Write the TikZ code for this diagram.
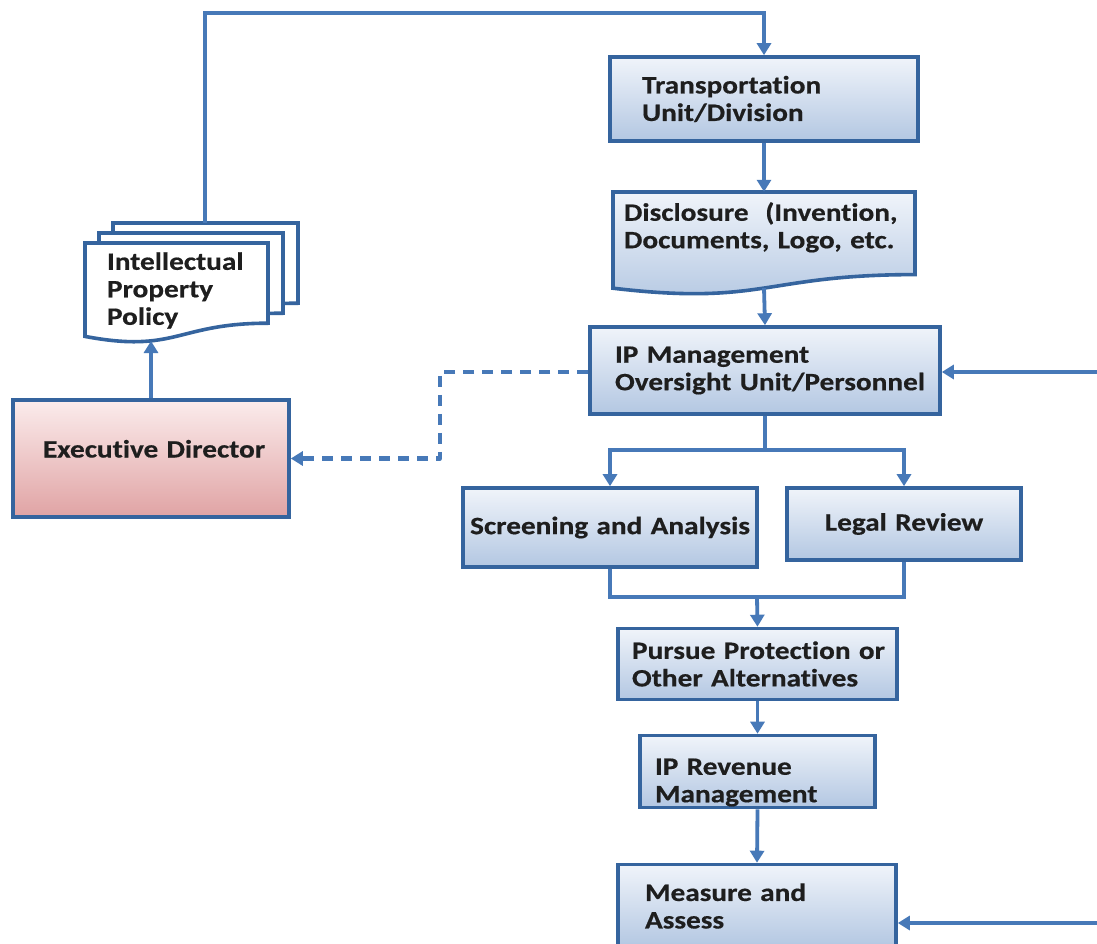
\documentclass[tikz,border=0pt]{standalone}
\usepackage{fontspec}
\newfontfamily\boxf{Carlito}[FakeStretch=1.17, FakeBold=0.5, Ligatures=NoCommon]
\usetikzlibrary{arrows.meta}
\definecolor{bdr}{HTML}{35649E}
\definecolor{cn}{HTML}{4779B8}
\definecolor{btop}{HTML}{F0F4FA}
\definecolor{bbot}{HTML}{B3C7E2}
\definecolor{ptop}{HTML}{FBECEC}
\definecolor{pbot}{HTML}{E0A3A4}
\definecolor{txt}{HTML}{1E1E1E}
\newcommand\docshape[5]{\path[#5] (#1,#2) -- (#3,#2) -- (#3,{#2+0.802*#4}) .. controls ({(#1+#3)/2},{#2+0.802*#4}) and ({(#1+#3)/2},{#2+1.107*#4}) .. (#1,{#2+0.934*#4}) -- cycle;}
\begin{document}
\begin{tikzpicture}[x=1pt,y=-1pt,
  lbl/.style={font=\boxf\bfseries\fontsize{25}{27.5}\selectfont, text=txt, align=left, inner ysep=0pt},
  bbox/.style={lbl, draw=bdr, line width=3.6pt, top color=btop, bottom color=bbot},
  pbox/.style={lbl, draw=bdr, line width=3.6pt, top color=ptop, bottom color=pbot},
  docb/.style={draw=bdr, line width=3.6pt, fill=white},
  docf/.style={draw=bdr, line width=3.6pt, top color=btop, bottom color=bbot},
  line/.style={draw=cn, line width=3.8pt},
  conn/.style={line, -{Triangle[length=12pt,width=14pt]}},
]
\useasboundingbox (0,0) rectangle (1097,944);
\fill[white] (0,0) rectangle (1097,944);

% boxes
\node[bbox, minimum width=308pt, minimum height=84pt, inner xsep=32pt, text width=244pt] (trans) at (764,99) {\mbox{Transportation}\\\mbox{Unit/Division}};

\docshape{613}{192}{915}{103}{docf}
\node[lbl, minimum width=302pt, minimum height=96pt, inner xsep=11pt, text width=280pt, text height=10pt, text depth=48.5pt] (disc) at (764,240) {\mbox{Disclosure\ \ (Invention,}\\\mbox{Documents, Logo, etc.}};

\node[bbox, minimum width=350pt, minimum height=87pt, inner xsep=25pt, text width=300pt] (ipm) at (765,370.5) {\mbox{IP Management}\\\mbox{Oversight Unit/Personnel}};

\node[bbox, align=center, minimum width=294pt, minimum height=79pt, inner xsep=3pt, text width=288pt] (scr) at (610,527.5) {\mbox{Screening and Analysis}};
\node[bbox, align=center, minimum width=234pt, minimum height=72pt, inner xsep=4pt, text width=226pt] (legal) at (904,524) {\mbox{Legal Review}};

\node[bbox, minimum width=279pt, minimum height=71pt, inner xsep=14pt, text width=251pt] (pur) at (757.5,664) {\mbox{Pursue Protection or}\\\mbox{Other Alternatives}};
\node[bbox, minimum width=235pt, minimum height=72pt, inner xsep=15pt, text width=205pt, text height=35pt, text depth=28.5pt] (rev) at (757.5,771.5) {\mbox{IP Revenue}\\\mbox{Management}};
\node[bbox, minimum width=278pt, minimum height=83pt, inner xsep=27pt, text width=224pt] (meas) at (757,906) {\mbox{Measure and}\\\mbox{Assess}};

\node[pbox, minimum width=276pt, minimum height=117pt, inner xsep=30pt, text width=216pt, text height=17pt, text depth=19pt] (exec) at (151,458.5) {\mbox{Executive Director}};

% document stack
\docshape{113}{223}{298}{100}{docb}
\docshape{99}{233}{283}{100}{docb}
\docshape{85}{243}{268}{100}{docb}
\node[lbl, minimum width=183pt, inner xsep=22pt, text width=139pt] (pol) at (176.5,290.5) {\mbox{Intellectual}\\\mbox{Property}\\\mbox{Policy}};

% coordinates
\coordinate (backtop) at (205,223);
\coordinate (tc) at (205,13);
\coordinate (polbot) at (151,341);
\coordinate (spl) at (765,450);
\coordinate (jn) at (757,597);
\coordinate (rin1) at (1097,372);
\coordinate (rin2) at (1097,923);
\coordinate (dx) at (440,0);
\coordinate (dy) at (0,372);

% connectors
\draw[conn] (backtop) -- (tc) -| (trans.north);
\draw[conn] (trans.south) -- (disc.north);
\draw[conn] (disc.south) -- (ipm.north);
\draw[line] (ipm.south) -- (spl);
\draw[conn] (spl) -| (scr.north);
\draw[conn] (spl) -| (legal.north);
\draw[line] (scr.south) |- (jn) -| (legal.south);
\draw[conn] (jn) -- (pur.north);
\draw[conn] (pur.south) -- (rev.north);
\draw[conn] (rev.south) -- (meas.north);
\draw[conn] (rin1) -- (rin1 -| ipm.east);
\draw[conn] (rin2) -- (rin2 -| meas.east);
\draw[conn, line width=4.2pt, line join=round, dash pattern=on 11pt off 8pt] (ipm.west |- dy) -| (dx |- exec.east) -- (exec.east);
\draw[conn] (exec.north) -- (polbot);
\end{tikzpicture}
\end{document}
